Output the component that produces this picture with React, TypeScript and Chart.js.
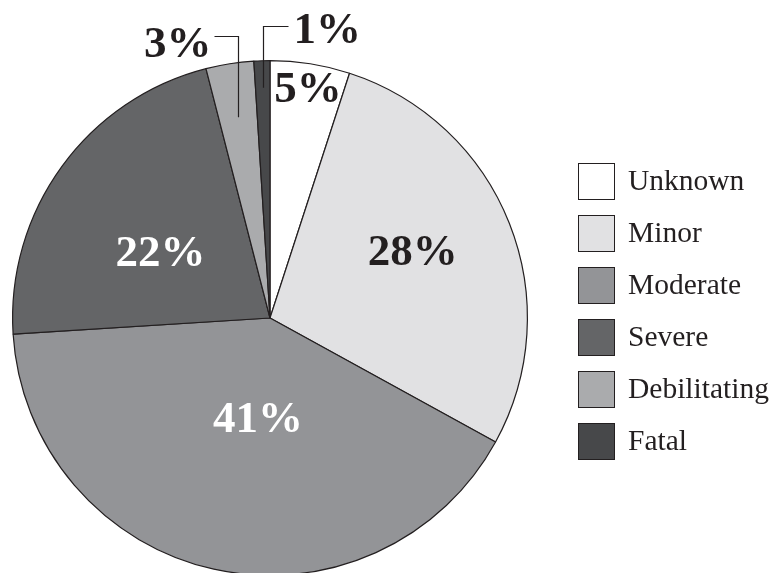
import React, { useEffect, useRef } from "react";
import { Chart, registerables } from "chart.js";
Chart.register(...registerables);

const categories = ["Unknown", "Minor", "Moderate", "Severe", "Debilitating", "Fatal"];
const percentages = [5, 28, 41, 22, 3, 1];
const valueLabels = ["5%", "28%", "41%", "22%", "3%", "1%"];
const sliceColors = ["#ffffff", "#e1e1e3", "#939497", "#646567", "#aaabad", "#47484a"];
const labelColors = ["#231f20", "#231f20", "#ffffff", "#ffffff", "#231f20", "#231f20"];

// label placement styling
const labelRadius = [0.903, 0.612, 0.391, 0.496, 0.79, 0.895];
const labelAngleShift = [0.4, -3.5, -5.8, -5, 0, 0];
const labelOutside = [false, false, false, false, true, true];
const leaderRise = [0, 0, 0, 0, 25, 35];
const leaderRun = [0, 0, 0, 0, -24, 25];
const labelDy = [0, 0, 0, 0, 7, 3];

const INK = "#231f20";
const LABEL_FONT = 'bold 45px "Liberation Serif", "DejaVu Serif", serif';
const LEGEND_FONT = '29.5px "Liberation Serif", "DejaVu Serif", serif';

const overlayPlugin = {
  id: "overlay",
  afterDraw(chart: any) {
    const ctx = chart.ctx;
    const meta = chart.getDatasetMeta(0);
    ctx.save();
    ctx.font = LABEL_FONT;
    ctx.textBaseline = "middle";
    meta.data.forEach((el: any, i: number) => {
      const p = el.getProps(["x", "y", "startAngle", "endAngle", "outerRadius"], true);
      const mid = (p.startAngle + p.endAngle) / 2 + (labelAngleShift[i] * Math.PI) / 180;
      const r = p.outerRadius * labelRadius[i];
      const px = p.x + r * Math.cos(mid);
      const py = p.y + r * Math.sin(mid);
      ctx.fillStyle = labelColors[i];
      if (!labelOutside[i]) {
        ctx.textAlign = "center";
        ctx.fillText(valueLabels[i], px, py + 2);
      } else {
        const lx = Math.round(px) + 0.5;
        const ly = Math.round(p.y - p.outerRadius - leaderRise[i]) + 0.5;
        const ex = lx + leaderRun[i];
        ctx.strokeStyle = INK;
        ctx.lineWidth = 1.2;
        ctx.beginPath();
        ctx.moveTo(lx, py);
        ctx.lineTo(lx, ly);
        ctx.lineTo(ex, ly);
        ctx.stroke();
        if (leaderRun[i] < 0) {
          ctx.textAlign = "right";
          ctx.fillText(valueLabels[i], ex - 3, ly + labelDy[i] + 2);
        } else {
          ctx.textAlign = "left";
          ctx.fillText(valueLabels[i], ex + 5, ly + labelDy[i] + 2);
        }
      }
    });

    // legend
    const boxX = 578.5;
    const boxSize = 36;
    const top0 = 162.5;
    const step = 52.1;
    ctx.font = LEGEND_FONT;
    ctx.textAlign = "left";
    ctx.textBaseline = "middle";
    chart.data.labels.forEach((lab: string, i: number) => {
      const by = Math.round(top0 + step * i) + 0.5;
      ctx.fillStyle = sliceColors[i];
      ctx.fillRect(boxX, by, boxSize, boxSize);
      ctx.strokeStyle = INK;
      ctx.lineWidth = 1;
      ctx.strokeRect(boxX, by, boxSize, boxSize);
      ctx.fillStyle = INK;
      ctx.fillText(lab, 628, by + boxSize / 2 + 1);
    });
    ctx.restore();
  },
};

export default function App() {
  const ref = useRef<HTMLCanvasElement | null>(null);
  useEffect(() => {
    if (!ref.current) return;
    const chart = new Chart(ref.current, {
      type: "pie",
      data: {
        labels: categories,
        datasets: [
          {
            data: percentages,
            backgroundColor: sliceColors,
            borderColor: INK,
            borderWidth: 1.2,
          },
        ],
      },
      options: {
        responsive: false,
        animation: false,
        devicePixelRatio: 1,
        layout: { padding: { left: 12, top: 60, right: 250, bottom: 4 } },
        plugins: { legend: { display: false }, tooltip: { enabled: false } },
      },
      plugins: [overlayPlugin],
    });
    return () => chart.destroy();
  }, []);
  return (
    <div style={{ position: "fixed", left: 0, top: 0, width: 778, height: 580, background: "#fff" }}>
      <canvas ref={ref} width={778} height={580} style={{ display: "block" }} />
    </div>
  );
}
